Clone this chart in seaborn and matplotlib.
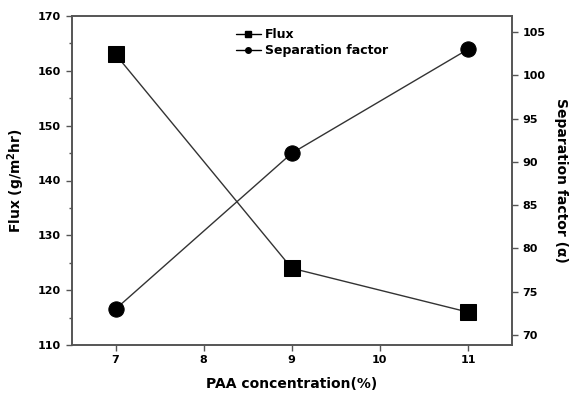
import matplotlib
matplotlib.use("Agg")
import matplotlib.pyplot as plt
import seaborn as sns
import pandas as pd
from matplotlib.ticker import MultipleLocator
from matplotlib.lines import Line2D

conc = [7, 9, 11]
flux = [163, 124, 116]
sep = [73, 91, 103]

sns.set_theme(style="ticks")
plt.rcParams['font.family'] = ['DejaVu Sans']
plt.rcParams['font.weight'] = 'bold'
plt.rcParams['text.color'] = 'black'
plt.rcParams['axes.labelcolor'] = 'black'
plt.rcParams['xtick.color'] = 'black'
plt.rcParams['ytick.color'] = 'black'

df = pd.DataFrame({"conc": conc, "flux": flux, "sep": sep})

fig = plt.figure(figsize=(5.81, 3.93), dpi=100)
ax = fig.add_axes([71.5/581, 1-345/393, (512-71.5)/581, (345-16)/393])
ax2 = ax.twinx()

sns.lineplot(data=df, x="conc", y="flux", ax=ax, color="#333333", lw=1,
             marker="s", markersize=11, markerfacecolor="black", markeredgecolor="black", legend=False)
sns.lineplot(data=df, x="conc", y="sep", ax=ax2, color="#333333", lw=1,
             marker="o", markersize=11, markerfacecolor="black", markeredgecolor="black", legend=False)

ax.set_xlim(6.5, 11.5)
ax.set_ylim(110, 170)
ax2.set_ylim(68.85, 106.85)
ax.set_xticks([7, 8, 9, 10, 11])
ax.yaxis.set_major_locator(MultipleLocator(10))
ax.yaxis.set_minor_locator(MultipleLocator(5))
ax2.set_yticks([70, 75, 80, 85, 90, 95, 100, 105])

for a in (ax, ax2):
    for s in a.spines.values():
        s.set_color("#555555")
        s.set_linewidth(1.2)
    a.tick_params(axis="both", which="major", labelsize=8, length=4, width=1, color="#555555", labelcolor="black")
    a.tick_params(axis="both", which="minor", length=2, width=1, color="#555555")
    for lab in a.get_xticklabels() + a.get_yticklabels():
        lab.set_fontweight("bold")

ax.set_xlabel("PAA concentration(%)", fontsize=10, fontweight="bold", labelpad=8, color="black")
ax.set_ylabel("Flux (g/m$^\\mathbf{2}$hr)", fontsize=10, fontweight="bold", labelpad=8, color="black")
ax2.set_ylabel("Separation factor (α)", fontsize=10, fontweight="bold", rotation=270, labelpad=16, color="black")

handles = [Line2D([], [], color="black", lw=1, marker="s", markersize=4),
           Line2D([], [], color="black", lw=1, marker="o", markersize=4)]
leg = ax.legend(handles, ["Flux", "Separation factor"], loc="upper left",
                bbox_to_anchor=(0.345, 1.0), frameon=False, fontsize=9,
                handlelength=2, handletextpad=0.3, labelspacing=0.2, borderaxespad=0.6)
for t in leg.get_texts():
    t.set_fontweight("bold")
    t.set_color("black")

fig.savefig("out.png", dpi=100)
